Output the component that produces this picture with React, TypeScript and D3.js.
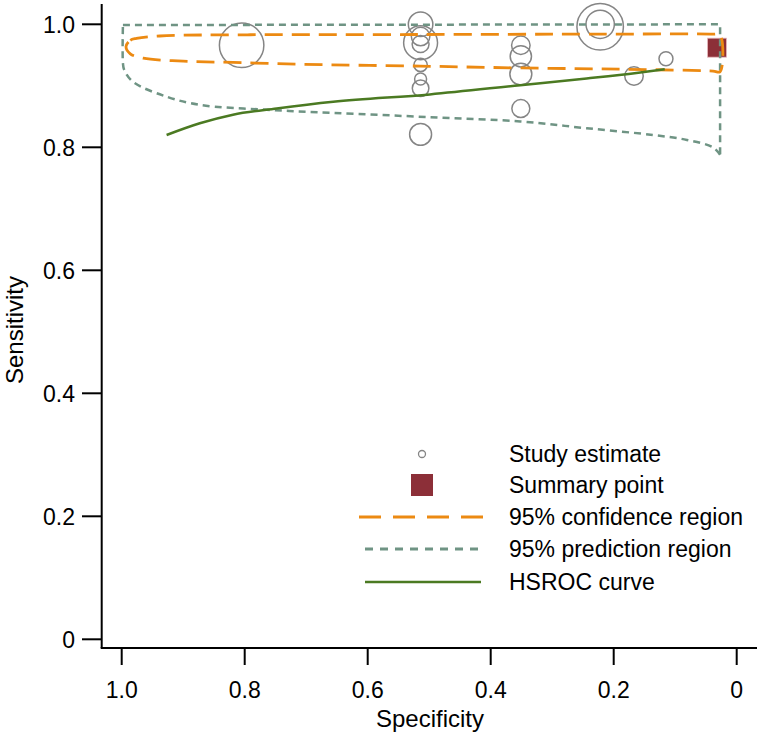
import * as d3 from 'd3';

// study estimates (specificity, sensitivity, relative weight -> circle area)
const studySpec = [0.805, 0.514, 0.514, 0.514, 0.514, 0.514, 0.514, 0.514, 0.514, 0.351, 0.351, 0.351, 0.351, 0.222, 0.222, 0.167, 0.115];
const studySens = [0.966, 1.0, 0.97, 0.98, 0.968, 0.934, 0.911, 0.896, 0.821, 0.966, 0.948, 0.919, 0.863, 0.996, 1.0, 0.916, 0.944];
const studyWeight = [497, 151, 289, 86, 72, 45, 36, 69, 121, 86, 114, 121, 81, 543, 202, 86, 49];

const summarySpec = 0.032;
const summarySens = 0.962;

// 95% confidence region outline (spec, sens)
const confSpec = [0.993, 0.986, 0.976, 0.938, 0.791, 0.515, 0.222, 0.0385, 0.027, 0.027, 0.0385, 0.19, 0.352, 0.515, 0.71, 0.819, 0.9, 0.965, 0.986, 0.993];
const confSens = [0.9636, 0.974, 0.977, 0.981, 0.983, 0.9834, 0.984, 0.984, 0.983, 0.923, 0.924, 0.927, 0.929, 0.932, 0.935, 0.938, 0.94, 0.945, 0.952, 0.9636];

// 95% prediction region outline
const predSpec = [0.998, 0.027, 0.027, 0.0385, 0.081, 0.136, 0.244, 0.352, 0.499, 0.656, 0.764, 0.873, 0.926, 0.981, 0.996, 0.998, 0.998];
const predSens = [0.9988, 1.0, 0.788, 0.8, 0.812, 0.82, 0.831, 0.842, 0.849, 0.856, 0.861, 0.869, 0.882, 0.906, 0.926, 0.937, 0.9988];

// HSROC curve
const hsrocSpec = [0.927, 0.873, 0.819, 0.748, 0.656, 0.499, 0.352, 0.244, 0.163, 0.117];
const hsrocSens = [0.82, 0.839, 0.853, 0.863, 0.874, 0.886, 0.901, 0.912, 0.921, 0.927];

const ticks = [0, 0.2, 0.4, 0.6, 0.8, 1.0];
const tickLabel = (v: number) => (v === 0 ? '0' : v.toFixed(1));

const legendLabels = ['Study estimate', 'Summary point', '95% confidence region', '95% prediction region', 'HSROC curve'];

const ORANGE = '#ec8a12';
const PRED = '#6f9484';
const GREEN = '#4b7a22';
const CIRCLE = '#858585';
const SUMMARY = '#8c2f38';
const FONT = '"Liberation Sans", Arial, Helvetica, sans-serif';

export default function App() {
  const W = 760;
  const H = 736;
  const x = d3.scaleLinear().domain([1, 0]).range([121.7, 736.7]);
  const y = d3.scaleLinear().domain([0, 1]).range([639.3, 24.3]);
  const r = d3.scaleSqrt().domain([0, 500]).range([0, 22.3]);

  const axisX = 101.7;
  const axisY = 648;

  const line = d3
    .line<[number, number]>()
    .x((d) => x(d[0]))
    .y((d) => y(d[1]))
    .curve(d3.curveMonotoneX);
  const poly = d3
    .line<[number, number]>()
    .x((d) => x(d[0]))
    .y((d) => y(d[1]))
    .curve(d3.curveCatmullRomClosed);

  const conf = confSpec.slice(0, -1).map((s, i) => [s, confSens[i]] as [number, number]);
  const predPath = d3
    .line<[number, number]>()
    .x((d) => x(d[0]))
    .y((d) => y(d[1]))
    .curve(d3.curveLinear)(predSpec.slice(0, 3).map((s, i) => [s, predSens[i]] as [number, number]));
  const predLower = d3
    .line<[number, number]>()
    .x((d) => x(d[0]))
    .y((d) => y(d[1]))
    .curve(d3.curveCatmullRom)(predSpec.slice(2).map((s, i) => [s, predSens[i + 2]] as [number, number]));
  const hsroc = line(hsrocSpec.map((s, i) => [s, hsrocSens[i]] as [number, number]));

  const legX = 422;
  const legText = 509;
  const legRows = [454, 485, 517, 549, 582];

  return (
    <svg
      width={W}
      height={H}
      style={{ position: 'absolute', left: 0, top: 0, background: '#fff' }}
      fontFamily={FONT}
    >
      {/* axes */}
      <line x1={axisX} x2={axisX} y1={4} y2={axisY} stroke="#000" strokeWidth={2} />
      <line x1={axisX - 1} x2={757} y1={axisY} y2={axisY} stroke="#000" strokeWidth={2} />
      {ticks.map((t) => (
        <g key={'y' + t}>
          <line x1={82} x2={axisX} y1={y(t)} y2={y(t)} stroke="#000" strokeWidth={2} />
          <text x={75} y={y(t)} dy="0.36em" textAnchor="end" fontSize={23}>
            {tickLabel(t)}
          </text>
        </g>
      ))}
      {ticks.map((t) => (
        <g key={'x' + t}>
          <line x1={x(t)} x2={x(t)} y1={axisY} y2={665} stroke="#000" strokeWidth={2} />
          <text x={x(t)} y={698} textAnchor="middle" fontSize={23}>
            {tickLabel(t)}
          </text>
        </g>
      ))}
      <text x={430} y={727} textAnchor="middle" fontSize={24}>
        Specificity
      </text>
      <text transform="translate(23,330) rotate(-90)" textAnchor="middle" fontSize={24}>
        Sensitivity
      </text>

      {/* study estimates */}
      {studySpec.map((s, i) => (
        <circle
          key={i}
          cx={x(s)}
          cy={y(studySens[i])}
          r={r(studyWeight[i])}
          fill="none"
          stroke={CIRCLE}
          strokeWidth={1.5}
        />
      ))}

      {/* summary point */}
      <rect
        x={x(summarySpec) - 9.5}
        y={y(summarySens) - 9.5}
        width={19}
        height={19}
        fill={SUMMARY}
        stroke="#e7b9bd"
        strokeWidth={0.8}
      />

      {/* prediction region */}
      <path d={predPath ?? ''} fill="none" stroke={PRED} strokeWidth={2.5} strokeDasharray="7,5" />
      <path d={predLower ?? ''} fill="none" stroke={PRED} strokeWidth={2.5} strokeDasharray="7,5" />

      {/* confidence region */}
      <path d={poly(conf) ?? ''} fill="none" stroke={ORANGE} strokeWidth={2.8} strokeDasharray="18,9" />

      {/* HSROC curve */}
      <path d={hsroc ?? ''} fill="none" stroke={GREEN} strokeWidth={2.5} />

      {/* legend */}
      <circle cx={legX} cy={legRows[0]} r={3.5} fill="none" stroke={CIRCLE} strokeWidth={1.3} />
      <rect x={legX - 11} y={legRows[1] - 11} width={22} height={22} fill={SUMMARY} />
      <line x1={359} x2={486} y1={legRows[2]} y2={legRows[2]} stroke={ORANGE} strokeWidth={3} strokeDasharray="22,12" />
      <line x1={365} x2={481} y1={legRows[3]} y2={legRows[3]} stroke={PRED} strokeWidth={3} strokeDasharray="8,7" />
      <line x1={365} x2={481} y1={legRows[4]} y2={legRows[4]} stroke={GREEN} strokeWidth={2.5} />
      {legendLabels.map((l, i) => (
        <text key={l} x={legText} y={legRows[i]} dy="0.36em" fontSize={23}>
          {l}
        </text>
      ))}
    </svg>
  );
}
